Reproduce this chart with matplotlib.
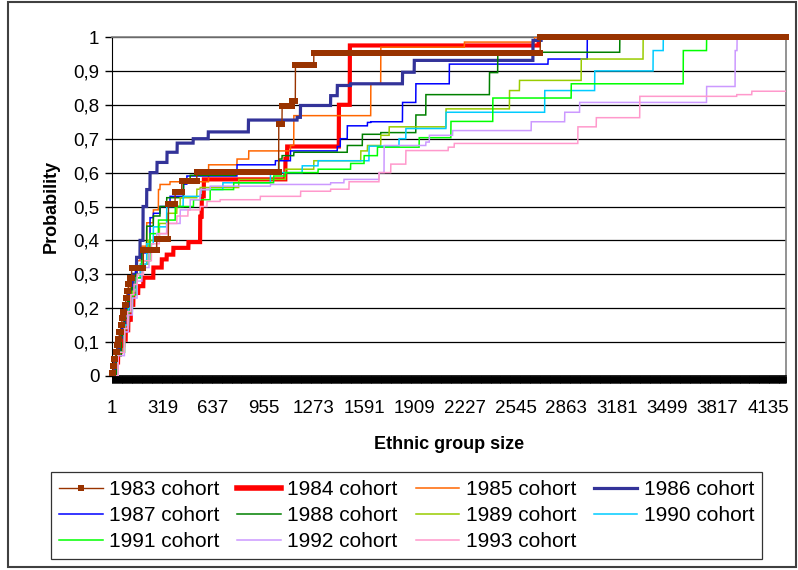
import numpy as np
import matplotlib
matplotlib.use('Agg')
import matplotlib.pyplot as plt
from matplotlib.patches import Rectangle

plt.rcParams['font.family'] = ['Liberation Sans', 'DejaVu Sans']

# number of categories on the x axis (ethnic group size 1..N)
n_cat = 4248
x_ticks = [1, 319, 637, 955, 1273, 1591, 1909, 2227, 2545, 2863, 3181, 3499, 3817, 4135]
y_ticks = [0, 0.1, 0.2, 0.3, 0.4, 0.5, 0.6, 0.7, 0.8, 0.9, 1.0]
y_labels = ['0', '0,1', '0,2', '0,3', '0,4', '0,5', '0,6', '0,7', '0,8', '0,9', '1']

# step points (group size where the cumulative probability changes, new value)
c1983_x = [1, 8, 16, 24, 32, 40, 48, 56, 64, 72, 80, 88, 96, 104, 112, 125, 199, 283,
           357, 399, 441, 536, 1052, 1073, 1137, 1157, 1273, 2700]
c1983_y = [0.01, 0.03, 0.05, 0.07, 0.09, 0.11, 0.13, 0.15, 0.17, 0.19, 0.21, 0.23, 0.25,
           0.27, 0.29, 0.32, 0.373, 0.403, 0.506, 0.543, 0.575, 0.602, 0.743, 0.795,
           0.81, 0.916, 0.953, 1.0]

c1984_x = [1, 20, 40, 56, 72, 88, 104, 120, 136, 167, 199, 262, 315, 346, 388, 483, 557,
           567, 580, 1094, 1105, 1431, 1500, 2690]
c1984_y = [0.0, 0.04, 0.07, 0.09, 0.107, 0.135, 0.166, 0.21, 0.245, 0.265, 0.29, 0.32,
           0.344, 0.358, 0.378, 0.395, 0.47, 0.53, 0.58, 0.64, 0.677, 0.80, 0.975, 1.0]

c1985_x = [1, 30, 60, 80, 100, 115, 130, 160, 178, 220, 262, 294, 304, 367, 610, 789,
           863, 1126, 1147, 1632, 1695, 2222, 2664]
c1985_y = [0.0, 0.06, 0.12, 0.17, 0.22, 0.26, 0.29, 0.34, 0.383, 0.452, 0.49, 0.55,
           0.565, 0.573, 0.623, 0.64, 0.664, 0.68, 0.768, 0.862, 0.97, 0.985, 1.0]

c1986_x = [1, 20, 36, 52, 68, 83, 108, 134, 156, 178, 197, 220, 241, 285, 348, 412, 513,
           608, 861, 1168, 1189, 1379, 1421, 1505, 1832, 1906, 2654, 2706]
c1986_y = [0.01, 0.05, 0.08, 0.115, 0.155, 0.195, 0.25, 0.30, 0.35, 0.40, 0.50, 0.55,
           0.60, 0.63, 0.66, 0.687, 0.70, 0.72, 0.755, 0.763, 0.798, 0.827, 0.857,
           0.862, 0.896, 0.931, 0.99, 1.0]

c1987_x = [1, 30, 60, 80, 100, 125, 150, 188, 241, 262, 304, 367, 452, 473, 789, 1031,
           1126, 1421, 1440, 1484, 1611, 1632, 1832, 1916, 2127, 2749, 2996]
c1987_y = [0.0, 0.07, 0.14, 0.20, 0.25, 0.29, 0.32, 0.363, 0.467, 0.48, 0.50, 0.53,
           0.566, 0.59, 0.623, 0.635, 0.664, 0.677, 0.70, 0.738, 0.748, 0.75, 0.807,
           0.862, 0.92, 0.935, 1.0]

c1988_x = [1, 30, 60, 80, 100, 125, 150, 190, 220, 262, 304, 346, 452, 494, 780, 1052,
           1073, 1147, 1484, 1579, 1695, 1916, 1979, 2380, 2432, 3201]
c1988_y = [0.0, 0.06, 0.12, 0.17, 0.22, 0.26, 0.30, 0.37, 0.442, 0.472, 0.50, 0.526,
           0.58, 0.592, 0.60, 0.64, 0.65, 0.66, 0.68, 0.713, 0.718, 0.77, 0.83, 0.895,
           0.955, 1.0]

c1989_x = [1, 40, 80, 105, 130, 155, 180, 230, 300, 350, 410, 431, 536, 557, 800, 1094,
           1273, 1569, 1611, 1695, 1748, 2106, 2506, 2569, 2958, 3348]
c1989_y = [0.0, 0.07, 0.15, 0.20, 0.25, 0.29, 0.33, 0.40, 0.45, 0.48, 0.50, 0.526,
           0.551, 0.556, 0.58, 0.61, 0.635, 0.664, 0.68, 0.71, 0.735, 0.788, 0.842,
           0.872, 0.935, 1.0]

c1990_x = [1, 40, 80, 105, 130, 155, 180, 220, 262, 346, 450, 560, 700, 1000, 1200, 1300,
           1621, 1810, 1853, 2106, 2728, 3043, 3411, 3475]
c1990_y = [0.0, 0.07, 0.15, 0.20, 0.24, 0.29, 0.33, 0.39, 0.44, 0.50, 0.53, 0.55, 0.57,
           0.60, 0.62, 0.635, 0.678, 0.70, 0.73, 0.778, 0.842, 0.90, 0.96, 1.0]

c1991_x = [1, 40, 80, 105, 130, 160, 190, 241, 294, 400, 515, 620, 768, 1020, 1094,
           1300, 1505, 1590, 1674, 1937, 2137, 2401, 2895, 3601, 3748]
c1991_y = [0.0, 0.07, 0.14, 0.19, 0.24, 0.29, 0.34, 0.42, 0.46, 0.50, 0.52, 0.55, 0.57,
           0.59, 0.60, 0.61, 0.627, 0.65, 0.675, 0.703, 0.751, 0.82, 0.862, 0.96, 1.0]

c1992_x = [1, 40, 80, 105, 130, 160, 190, 235, 283, 346, 431, 494, 557, 620, 1000, 1379,
           1463, 1684, 1716, 1979, 2001, 2148, 2643, 2854, 2948, 3748, 3928, 3940]
c1992_y = [0.0, 0.06, 0.13, 0.18, 0.23, 0.28, 0.32, 0.37, 0.42, 0.45, 0.49, 0.52, 0.55,
           0.56, 0.565, 0.57, 0.58, 0.60, 0.68, 0.69, 0.71, 0.724, 0.75, 0.778, 0.807,
           0.854, 0.96, 1.0]

c1993_x = [1, 40, 80, 100, 120, 140, 160, 200, 250, 300, 350, 410, 480, 557, 600, 683,
           936, 1190, 1379, 1495, 1684, 1758, 1853, 2120, 2158, 2937, 3053, 3327, 3938,
           4033, 4254]
c1993_y = [0.0, 0.07, 0.14, 0.19, 0.24, 0.27, 0.30, 0.34, 0.39, 0.42, 0.45, 0.472, 0.49,
           0.50, 0.515, 0.52, 0.53, 0.545, 0.551, 0.573, 0.60, 0.625, 0.665, 0.675,
           0.686, 0.735, 0.762, 0.825, 0.83, 0.84, 1.0]

series = [
    ('1983 cohort', c1983_x, c1983_y, '#993300', 1.0),
    ('1984 cohort', c1984_x, c1984_y, '#FF0000', 3.0),
    ('1985 cohort', c1985_x, c1985_y, '#FF6600', 1.1),
    ('1986 cohort', c1986_x, c1986_y, '#333399', 2.3),
    ('1987 cohort', c1987_x, c1987_y, '#0000FF', 1.1),
    ('1988 cohort', c1988_x, c1988_y, '#008000', 1.1),
    ('1989 cohort', c1989_x, c1989_y, '#99CC00', 1.1),
    ('1990 cohort', c1990_x, c1990_y, '#00CCFF', 1.1),
    ('1991 cohort', c1991_x, c1991_y, '#00FF00', 1.1),
    ('1992 cohort', c1992_x, c1992_y, '#CC99FF', 1.1),
    ('1993 cohort', c1993_x, c1993_y, '#FF99CC', 1.1),
]

cats = np.arange(1, n_cat + 1)

fig = plt.figure(figsize=(7.98, 5.70), dpi=100)
ax = fig.add_axes([112 / 798, 194 / 570, 674 / 798, 339 / 570])

handles = []
for label, xs, ys, color, lw in series:
    xs = np.asarray(xs)
    ys = np.asarray(ys)
    vals = ys[np.searchsorted(xs, cats, side='right') - 1]
    if label == '1983 cohort':
        h, = ax.plot(cats, vals, color=color, lw=lw, marker='s', markersize=4.4,
                     markeredgewidth=0, label=label, zorder=5, clip_on=False)
    else:
        h, = ax.plot(cats, vals, color=color, lw=lw, label=label, zorder=3,
                     solid_joinstyle='miter')
    handles.append(h)

ax.set_xlim(1, n_cat)
ax.set_ylim(0, 1)
ax.set_xticks(x_ticks)
ax.set_xticklabels([str(v) for v in x_ticks], fontsize=13.5)
ax.set_xticks(np.arange(1, n_cat + 1, 3), minor=True)
ax.set_yticks(y_ticks)
ax.set_yticklabels(y_labels, fontsize=13.5)
ax.tick_params(axis='x', which='both', length=5, width=0.7, color='black',
               direction='out', pad=12)
ax.tick_params(axis='y', length=5, width=1.0, color='black', pad=4)
ax.yaxis.grid(True, color='black', lw=0.9)
ax.set_axisbelow(True)

for side in ('top', 'right'):
    ax.spines[side].set_color('#808080')
    ax.spines[side].set_linewidth(1.2)
ax.spines['left'].set_color('black')
ax.spines['bottom'].set_color('black')
ax.spines['bottom'].set_linewidth(1.2)

ax.set_xlabel('Ethnic group size', fontsize=13, fontweight='bold', labelpad=14)
ax.set_ylabel('Probability', fontsize=13, fontweight='bold', labelpad=10)

# legend is filled row by row in the reference; matplotlib fills by column
order = [0, 4, 8, 1, 5, 9, 2, 6, 10, 3, 7]
leg = fig.legend([handles[i] for i in order], [series[i][0] for i in order],
                 loc='upper left', bbox_to_anchor=(51 / 798, 1 - 472 / 570),
                 ncol=4, fontsize=15, frameon=True, fancybox=False,
                 edgecolor='black', handlelength=2.1, handletextpad=0.3,
                 columnspacing=0.85, labelspacing=0.33, borderpad=0.4,
                 borderaxespad=0, numpoints=1)
leg.get_frame().set_linewidth(0.9)
for line in leg.get_lines():
    if line.get_label() == '1984 cohort':
        line.set_linewidth(4.0)

fig.patches.append(Rectangle((8 / 798, 3 / 570), 788 / 798, 565 / 570,
                             transform=fig.transFigure, fill=False,
                             edgecolor='#404040', lw=1.5))

fig.savefig('out.png', dpi=100)
